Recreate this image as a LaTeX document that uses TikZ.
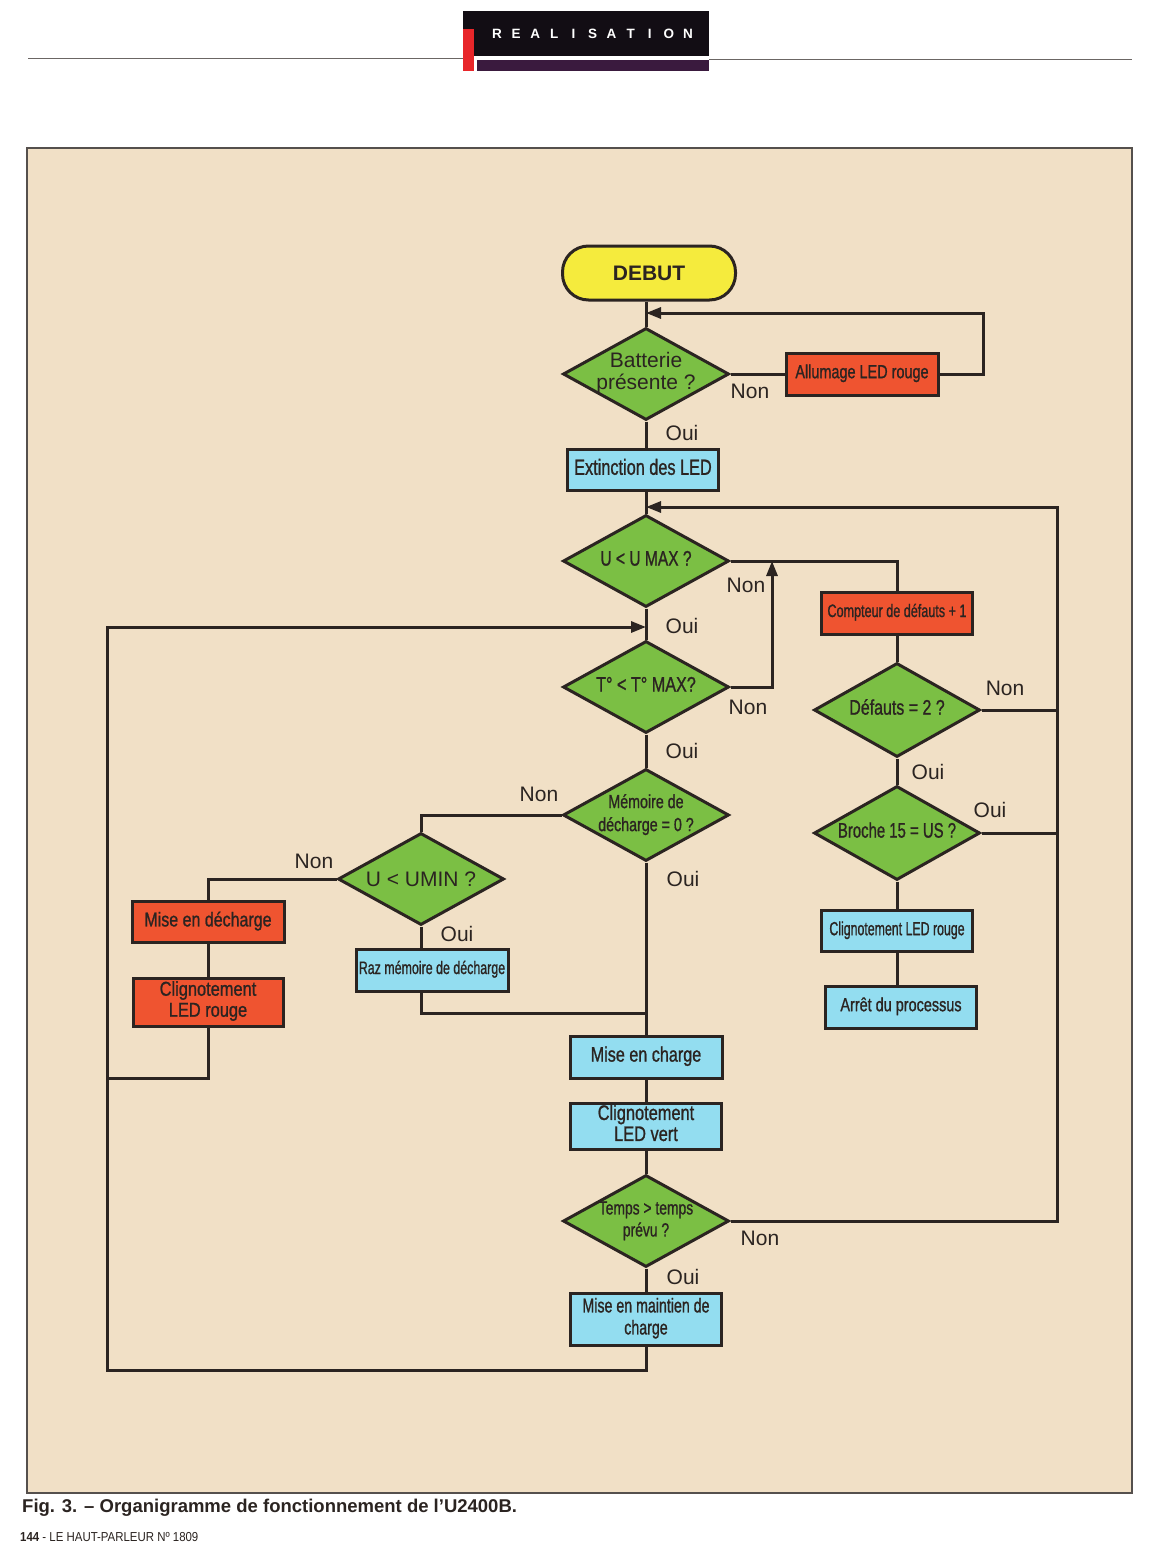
\documentclass[tikz,border=0pt]{standalone}
\usepackage{fontspec}
\setmainfont{Liberation Sans}
\newfontfamily\cf[FakeBold=1.2]{Liberation Sans}
\usepackage{graphicx}
\usetikzlibrary{shapes.geometric,arrows.meta,calc}
\definecolor{beige}{HTML}{F1E0C6}
\definecolor{ylw}{HTML}{F5EB3D}
\definecolor{grn}{HTML}{7BBF44}
\definecolor{rdo}{HTML}{EF5430}
\definecolor{cyn}{HTML}{93DDF0}
\definecolor{ink}{HTML}{2B2421}
\definecolor{hdr}{HTML}{120D14}
\definecolor{hdrp}{HTML}{3A1A3E}
\definecolor{hred}{HTML}{E8262A}
\newcommand\sq[2]{\scalebox{#1}[1]{\cf\begin{tabular}{@{}c@{}}#2\end{tabular}}}
\newcommand\fs[2]{\fontsize{#1}{#2}\selectfont}
\begin{document}
\begin{tikzpicture}[x=1pt,y=-1pt,
  conn/.style={draw=ink, line width=3pt},
  arr/.style={conn, -{Triangle[length=15pt,width=11pt]}},
  bx/.style={draw=ink, line width=3pt, inner sep=0pt, text=ink},
  dm/.style={diamond, draw=ink, line width=3pt, fill=grn, inner sep=0pt, minimum width=166pt, minimum height=92pt},
  txt/.style={text=ink, inner sep=0pt},
  lab/.style={text=ink, font=\fs{21}{23}, inner sep=0pt}]
\useasboundingbox (0,0) rectangle (1152,1568);
\fill[white] (0,0) rectangle (1152,1568);
% header
\draw[line width=1pt, ink!70] (28,59) -- (463,59);
\draw[line width=1pt, ink!70] (709,60) -- (1132,60);
\fill[hdr] (463,11) rectangle (709,56);
\fill[hdrp] (477,60) rectangle (709,71);
\fill[hred] (463,29) rectangle (474,71);
\foreach \c [count=\i] in {R,E,A,L,I,S,A,T,I,O,N}
  \node[font=\bfseries\fs{13.5}{15}, text=white, inner sep=0pt] (h\i) at ({497+(\i-1)*19.1},34) {\c};
% panel
\draw[fill=beige, draw=ink!80, line width=1.2pt] (27,148) rectangle (1132,1493);
% nodes
\node[bx, fill=ylw, rounded corners=26pt, minimum width=173pt, minimum height=54pt, font=\bfseries\fs{21}{23}] (debut) at (649,273) {DEBUT};
\node[dm] (bat) at (646,374) {};
\node[txt, font=\fs{21}{22}] (batT) at (646,374) {\begin{tabular}{@{}c@{}}Batterie\\présente ?\end{tabular}};
\node[bx, fill=rdo, minimum width=152pt, minimum height=42pt, font=\fs{19}{21}] (all) at (862,374) {\sq{0.76}{Allumage LED rouge}};
\node[bx, fill=cyn, minimum width=151pt, minimum height=41pt, font=\fs{22}{24}] (ext) at (643,470) {\sq{0.74}{Extinction des LED}};
\node[dm] (umax) at (646,561) {};
\node[txt, font=\fs{21}{23}] (umaxT) at (646,561) {\sq{0.74}{U < U MAX ?}};
\node[dm] (tmax) at (646,687) {};
\node[txt, font=\fs{21}{23}] (tmaxT) at (646,687) {\sq{0.77}{T° < T° MAX?}};
\node[dm] (mem) at (646,815) {};
\node[txt, font=\fs{19}{23}] (memT) at (646,815) {\sq{0.75}{Mémoire de\\décharge = 0 ?}};
\node[dm] (umin) at (421,879) {};
\node[txt, font=\fs{21}{23}] (uminT) at (421,879) {U < UMIN ?};
\node[bx, fill=rdo, minimum width=151pt, minimum height=42pt, font=\fs{18}{20}] (cpt) at (897,613) {\sq{0.7}{Compteur de défauts + 1}};
\node[dm, minimum height=94pt] (def) at (897,710) {};
\node[txt, font=\fs{21}{23}] (defT) at (897,710) {\sq{0.76}{Défauts = 2 ?}};
\node[dm, minimum height=94pt] (bro) at (897,833) {};
\node[txt, font=\fs{21}{23}] (broT) at (897,833) {\sq{0.71}{Broche 15 = US ?}};
\node[bx, fill=cyn, minimum width=151pt, minimum height=41pt, font=\fs{19}{21}] (clr) at (897,931) {\sq{0.65}{Clignotement LED rouge}};
\node[bx, fill=cyn, minimum width=151pt, minimum height=42pt, font=\fs{19}{21}] (stop) at (901,1007) {\sq{0.76}{Arrêt du processus}};
\node[bx, fill=rdo, minimum width=152pt, minimum height=41pt, font=\fs{20}{22}] (mde) at (208,922) {\sq{0.8}{Mise en décharge}};
\node[bx, fill=rdo, minimum width=150pt, minimum height=48pt, font=\fs{20}{21}] (clr2) at (208,1002) {\sq{0.82}{Clignotement\\LED rouge}};
\node[bx, fill=cyn, minimum width=152pt, minimum height=42pt, font=\fs{18}{20}] (raz) at (432,970) {\sq{0.69}{Raz mémoire de décharge}};
\node[bx, fill=cyn, minimum width=152pt, minimum height=42pt, font=\fs{21}{23}] (mch) at (646,1057) {\sq{0.77}{Mise en charge}};
\node[bx, fill=cyn, minimum width=151pt, minimum height=46pt, font=\fs{21}{21}] (clv) at (646,1126) {\sq{0.78}{Clignotement\\LED vert}};
\node[dm] (tps) at (646,1221) {};
\node[txt, font=\fs{19}{22}] (tpsT) at (646,1221) {\sq{0.73}{Temps > temps\\prévu ?}};
\node[bx, fill=cyn, minimum width=151pt, minimum height=52pt, font=\fs{20}{22}] (mmc) at (646,1319) {\sq{0.71}{Mise en maintien de\\charge}};
% coordinates
\coordinate (j0) at (646,313);
\coordinate (r0) at (983,313);
\coordinate (j1) at (646,627);
\coordinate (lt) at (107,627);
\coordinate (lb) at (107,1370);
\coordinate (cl) at (107,1078);
\coordinate (j2) at (646,507);
\coordinate (rt) at (1057,507);
\coordinate (x772) at (772,0);
\coordinate (jr) at (646,1013);
% connectors
\draw[conn] (debut.south -| bat.north) -- (bat.north);
\draw[conn] (bat.south) -- (bat.south |- ext.north);
\draw[conn] (bat.south |- ext.south) -- (umax.north);
\draw[conn] (umax.south) -- (tmax.north);
\draw[conn] (tmax.south) -- (mem.north);
\draw[conn] (mem.south) -- (mch.north);
\draw[conn] (mch.south) -- (clv.north);
\draw[conn] (clv.south) -- (tps.north);
\draw[conn] (tps.south) -- (mmc.north);
\draw[arr] (mmc.south) |- (lb) -- (lt) -- (j1);
\draw[conn] (bat.east) -- (all.west);
\draw[arr] (all.east) -| (r0) -- (j0);
\draw[arr] (tps.east) -| (rt) -- (j2);
\draw[conn] (def.east) -- (def.east -| rt);
\draw[conn] (bro.east) -- (bro.east -| rt);
\draw[conn] (umax.east) -| (cpt.north);
\draw[conn] (cpt.south) -- (def.north);
\draw[conn] (def.south) -- (bro.north);
\draw[conn] (bro.south) -- (clr.north);
\draw[conn] (clr.south) -- (clr.south |- stop.north);
\draw[arr] (tmax.east) -| (umax.east -| x772);
\draw[conn] (mem.west) -| (umin.north);
\draw[conn] (umin.west) -| (mde.north);
\draw[conn] (mde.south) -- (clr2.north);
\draw[conn] (clr2.south) |- (cl);
\draw[conn] (umin.south) -- (umin.south |- raz.north);
\draw[conn] (raz.south -| umin.south) |- (jr);
% labels
\node[lab] (l1) at (750,391) {Non};
\node[lab] (l2) at (682,433) {Oui};
\node[lab] (l3) at (746,585) {Non};
\node[lab] (l4) at (682,626) {Oui};
\node[lab] (l5) at (748,707) {Non};
\node[lab] (l6) at (682,751) {Oui};
\node[lab] (l7) at (539,794) {Non};
\node[lab] (l8) at (683,879) {Oui};
\node[lab] (l9) at (314,861) {Non};
\node[lab] (l10) at (457,934) {Oui};
\node[lab] (l11) at (1005,688) {Non};
\node[lab] (l12) at (928,772) {Oui};
\node[lab] (l13) at (990,810) {Oui};
\node[lab] (l14) at (760,1238) {Non};
\node[lab] (l15) at (683,1277) {Oui};
% footer
\node[anchor=west, inner sep=0pt, text=ink, font=\bfseries\fs{18.5}{20}] (cap) at (22,1508) {Fig. 3. – Organigramme de fonctionnement de l’U2400B.};
\node[anchor=west, inner sep=0pt, text=ink, font=\fs{13}{15}] (pg) at (20,1537) {\scalebox{0.88}[1]{\textbf{144} - LE HAUT-PARLEUR Nº 1809}};
\end{tikzpicture}
\end{document}
